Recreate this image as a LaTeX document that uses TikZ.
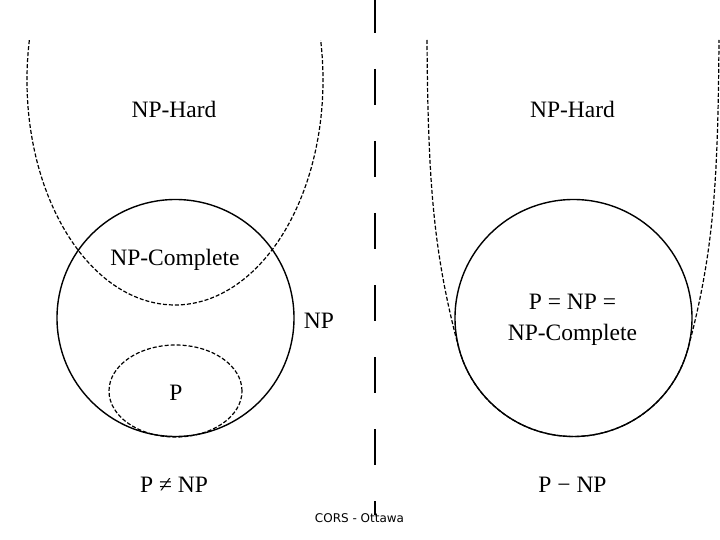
\documentclass[tikz,border=0pt]{standalone}
\usepackage{fontspec}
\usetikzlibrary{shapes.geometric}
\setmainfont{Liberation Serif}
\newfontfamily\footfont{DejaVu Sans}
\begin{document}
\begin{tikzpicture}[x=1pt,y=-1pt,
  lbl/.style={font=\fontsize{23.5}{26}\selectfont, anchor=base, inner sep=0pt},
  setline/.style={line width=1.4pt},
  fine/.style={line width=1.2pt, dash pattern=on 4pt off 2pt},
  divider/.style={line width=1.8pt, dash pattern=on 36pt off 36pt, dash phase=3pt}]
\useasboundingbox (0,0) rectangle (720,540);
% divider
\coordinate (dtop) at (375,0);
\coordinate (dbot) at (375,515);
\draw[divider] (dtop) -- (dbot);
% ---- left: P != NP
\draw[fine] (175,80) ++(190.2:148 and 225) arc[start angle=190.2, end angle=-10.2, x radius=148, y radius=225];
\node[setline, draw, circle, minimum size=237pt, inner sep=0pt] (npL) at (175.5,318) {};
\node[fine, draw, ellipse, minimum width=133pt, minimum height=92pt, inner sep=0pt] (pL) at (175.5,391) {};
\node[lbl] (hardL) at (174,118) {NP-Hard};
\node[lbl] (compL) at (175,265) {NP-Complete};
\node[lbl] (npLbl) at (319,328) {NP};
\node[lbl] (pLbl) at (176,400) {P};
\node[lbl] (neqL) at (174,492) {P ≠ NP};
% ---- right: P = NP
\node[setline, draw, circle, minimum size=237pt, inner sep=0pt] (npR) at (573.5,318) {};
\draw[fine] (427,40) .. controls (428,180) and (433,252) .. (459,348.7)
  arc[start angle=165, end angle=15, radius=118.5]
  .. controls (714,252) and (718,180) .. (719,40);
\node[lbl] (hardR) at (572.5,118) {NP-Hard};
\node[lbl] (eqR1) at (572.5,309) {P = NP =};
\node[lbl] (eqR2) at (572.5,340) {NP-Complete};
\node[lbl] (eqR) at (572.5,492) {P − NP};
% footer
\node[font=\footfont\fontsize{12}{14}\selectfont, anchor=base, inner sep=0pt] (foot) at (359.5,522) {CORS - Ottawa};
\end{tikzpicture}
\end{document}
